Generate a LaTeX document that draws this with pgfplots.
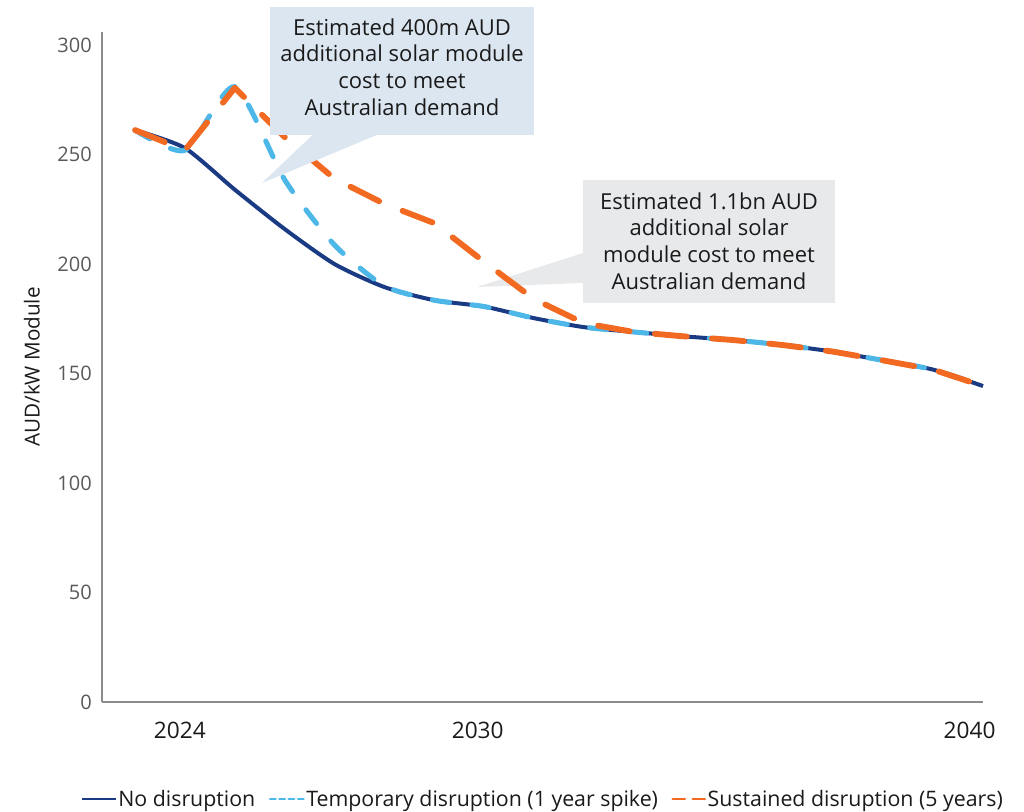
\documentclass[border=0pt]{standalone}
\usepackage{pgfplots}
\pgfplotsset{compat=1.18}
\usepackage{fontspec}
\setmainfont{Open Sans}
\definecolor{navy}{HTML}{1B3A84}
\definecolor{sky}{HTML}{4DB8E8}
\definecolor{orng}{HTML}{F26A21}
\definecolor{boxblue}{HTML}{DCE6F1}
\definecolor{boxgray}{HTML}{E8E9EB}
\definecolor{axgray}{HTML}{8C8C8C}
\definecolor{tickgray}{HTML}{595959}
\definecolor{txt}{HTML}{1A1A1A}

\pgfplotstableread{
year val
2023 261.2
2024 253.0
2025 234.0
2026 216.0
2027 200.0
2028 189.5
2029 183.5
2030 180.6
2031 175.3
2032 171.2
2033 169.0
2034 167.0
2035 165.3
2036 163.0
2037 160.0
2038 156.0
2039 151.8
2040 144.3
}\nodisrupt

\pgfplotstableread{
year val
2023 261.2
2024 252.0
2025 281.0
2026 238.5
2027 208.7
2028 190.0
2029 183.5
2030 180.6
2031 175.3
2032 171.2
2033 169.0
2034 167.0
2035 165.3
2036 163.0
2037 160.0
2038 156.0
2039 151.8
2040 144.3
}\temporary

\pgfplotstableread{
year val
2023 261.2
2024 252.0
2025 280.5
2026 258.0
2027 239.0
2028 227.5
2029 218.7
2030 201.0
2031 184.0
2032 173.0
2033 169.0
2034 167.0
2035 165.3
2036 163.0
2037 160.0
2038 156.0
2039 151.8
2040 144.3
}\sustained

\begin{document}
\begin{tikzpicture}[x=0.75pt,y=0.75pt]
\useasboundingbox (0,0) rectangle (1024,811);
% callout 2 (behind the lines)
\fill[boxgray] (583,631) rectangle (835,508);
\fill[boxgray] (477,524) -- (583,558) -- (583,528) -- cycle;
\node[align=center, text=txt, font=\fontsize{16.5}{20}\selectfont] at (709,570) {Estimated 1.1bn AUD\\additional solar\\module cost to meet\\Australian demand};
\begin{axis}[
  at={(76.5pt,81.75pt)}, anchor=south west, scale only axis,
  width=660.75pt, height=502.5pt,
  xmin=2022.338, xmax=2040, ymin=0, ymax=306,
  axis x line*=bottom, axis y line*=left,
  axis line style={axgray, line width=1.1pt, -},
  major tick length=0pt,
  xtick={2023.9,2029.87,2039.73},
  xticklabels={2024,2030,2040},
  ytick={0,50,100,150,200,250,300},
  /pgf/number format/assume math mode=true,
  xticklabel style={anchor=base, yshift=-27pt, text=txt, font=\fontsize{17}{20}\selectfont},
  yticklabel style={anchor=east, inner sep=0pt, xshift=-7.5pt, text=tickgray, font=\fontsize{15}{18}\selectfont},
  ylabel={AUD/kW Module},
  ylabel style={at={(axis description cs:-0.0795,0.5)}, anchor=center, rotate=0, text=txt, font=\fontsize{15.5}{18}\selectfont},
  legend columns=3,
  legend style={draw=none, fill=none, at={(0.5,-0.1448)}, anchor=center,
    font=\fontsize{16}{19}\selectfont, text=txt,
    /tikz/every odd column/.append style={column sep=0pt},
    /tikz/every even column/.append style={column sep=9pt},
    nodes={inner sep=1pt}},
  legend cell align=left,
  clip=false,
]
\addplot[navy, line width=3pt, smooth, tension=0.4,
  legend image code/.code={\draw[navy, line width=2.2pt] (0pt,0pt) -- (25pt,0pt);}]
  table[x=year,y=val] {\nodisrupt};
\addlegendentry{No disruption}
\addplot[sky, line width=3.8pt, smooth, tension=0.4, line cap=round, dash pattern=on 13pt off 17pt,
  legend image code/.code={\draw[sky, line width=2.2pt, dash pattern=on 4pt off 3pt] (0pt,0pt) -- (25pt,0pt);}]
  table[x=year,y=val] {\temporary};
\addlegendentry{Temporary disruption (1 year spike)}
\addplot[orng, line width=4.4pt, line cap=round, line join=round, dash pattern=on 24pt off 19pt,
  legend image code/.code={\draw[orng, line width=2.2pt, dash pattern=on 9pt off 6pt] (1pt,0pt) -- (25pt,0pt);}]
  table[x=year,y=val] {\sustained};
\addlegendentry{Sustained disruption (5 years)}
\end{axis}
% callout 1 (in front of the lines)
\fill[boxblue] (270,804) rectangle (534,676);
\fill[boxblue] (262,628) -- (313,676.5) -- (378,676.5) -- cycle;
\node[align=center, text=txt, font=\fontsize{16.5}{20}\selectfont] at (402,744) {Estimated 400m AUD\\additional solar module\\cost to meet\\Australian demand};
\end{tikzpicture}
\end{document}
